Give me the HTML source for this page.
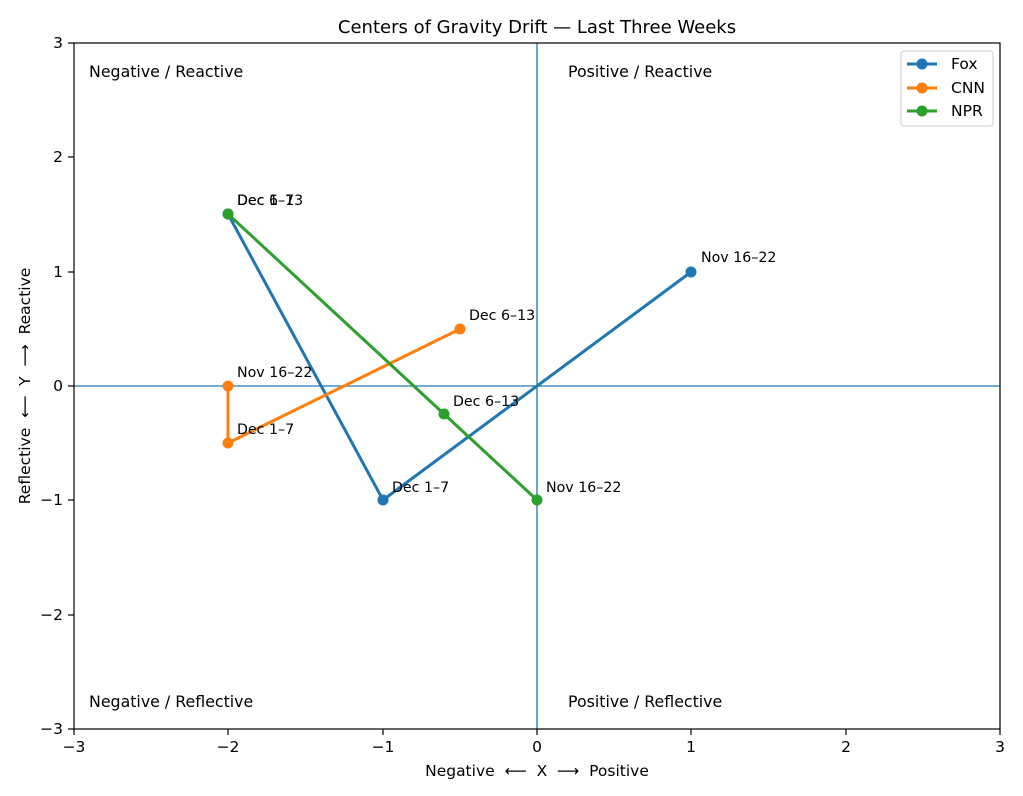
<!DOCTYPE html>
<html><head><meta charset="utf-8"><style>body{margin:0;background:#fff}svg{display:block}text{font-family:"DejaVu Sans","Liberation Sans",sans-serif}</style></head>
<body>
<svg width="1023" height="796" xmlns="http://www.w3.org/2000/svg">
<rect width="1023" height="796" fill="#fff"/>
<text x="537" y="33" font-size="18" text-anchor="middle">Centers of Gravity Drift — Last Three Weeks</text>
<line x1="537" y1="43" x2="537" y2="729" stroke="#1f77b4" stroke-width="1.3"/>
<line x1="74" y1="386" x2="1000" y2="386" stroke="#1f77b4" stroke-width="1.3"/>
<g font-size="15.8">
<text x="89" y="77">Negative / Reactive</text>
<text x="568" y="77">Positive / Reactive</text>
<text x="89" y="707">Negative / Reflective</text>
<text x="568" y="707">Positive / Reflective</text>
</g>
<g fill="none" stroke-width="3" stroke-linejoin="round">
<polyline points="691,272 383,500 228,214" stroke="#1f77b4"/>
<polyline points="228,386 228,443 460,329" stroke="#ff7f0e"/>
<polyline points="537,500 444,414 228,214" stroke="#2ca02c"/>
</g>
<g fill="#1f77b4"><circle cx="691" cy="272" r="5.5"/><circle cx="383" cy="500" r="5.5"/><circle cx="228" cy="214" r="5.5"/></g>
<g fill="#ff7f0e"><circle cx="228" cy="386" r="5.5"/><circle cx="228" cy="443" r="5.5"/><circle cx="460" cy="329" r="5.5"/></g>
<g fill="#2ca02c"><circle cx="537" cy="500" r="5.5"/><circle cx="444" cy="414" r="5.5"/><circle cx="228" cy="214" r="5.5"/></g>
<g font-size="14.2">
<text x="701" y="262">Nov 16–22</text>
<text x="392" y="492">Dec 1–7</text>
<text x="237" y="205">Dec 6–13</text>
<text x="237" y="205">Dec 1–7</text>
<text x="237" y="377">Nov 16–22</text>
<text x="237" y="434">Dec 1–7</text>
<text x="469" y="320">Dec 6–13</text>
<text x="546" y="492">Nov 16–22</text>
<text x="453" y="406">Dec 6–13</text>
</g>
<rect x="74" y="43" width="926" height="686" fill="none" stroke="#000" stroke-width="1.2"/>
<g stroke="#000" stroke-width="1.2">
<line x1="74" y1="729" x2="74" y2="735"/><line x1="228" y1="729" x2="228" y2="735"/><line x1="383" y1="729" x2="383" y2="735"/><line x1="537" y1="729" x2="537" y2="735"/><line x1="691" y1="729" x2="691" y2="735"/><line x1="846" y1="729" x2="846" y2="735"/><line x1="1000" y1="729" x2="1000" y2="735"/>
<line x1="68" y1="43" x2="74" y2="43"/><line x1="68" y1="157" x2="74" y2="157"/><line x1="68" y1="272" x2="74" y2="272"/><line x1="68" y1="386" x2="74" y2="386"/><line x1="68" y1="500" x2="74" y2="500"/><line x1="68" y1="615" x2="74" y2="615"/><line x1="68" y1="729" x2="74" y2="729"/>
</g>
<g font-size="15.5" text-anchor="middle">
<text x="74" y="752">−3</text><text x="228" y="752">−2</text><text x="383" y="752">−1</text><text x="537" y="752">0</text><text x="691" y="752">1</text><text x="846" y="752">2</text><text x="1000" y="752">3</text>
</g>
<g font-size="15.5" text-anchor="end">
<text x="63" y="48">3</text><text x="63" y="162">2</text><text x="63" y="277">1</text><text x="63" y="391">0</text><text x="63" y="505">−1</text><text x="63" y="620">−2</text><text x="63" y="734">−3</text>
</g>
<text x="537" y="776" font-size="15.5" text-anchor="middle" xml:space="preserve">Negative  ⟵  X  ⟶  Positive</text>
<text transform="translate(30,386) rotate(-90)" font-size="15.5" text-anchor="middle" xml:space="preserve">Reflective  ⟵  Y  ⟶  Reactive</text>
<rect x="901" y="51" width="92" height="75" fill="#fff" stroke="#ccc" rx="3"/>
<g stroke-width="3"><line x1="907" y1="64" x2="937" y2="64" stroke="#1f77b4"/><line x1="907" y1="88" x2="937" y2="88" stroke="#ff7f0e"/><line x1="907" y1="111" x2="937" y2="111" stroke="#2ca02c"/></g>
<circle cx="922" cy="64" r="5.5" fill="#1f77b4"/><circle cx="922" cy="88" r="5.5" fill="#ff7f0e"/><circle cx="922" cy="111" r="5.5" fill="#2ca02c"/>
<g font-size="15.5"><text x="951" y="69">Fox</text><text x="951" y="93">CNN</text><text x="951" y="116">NPR</text></g>
</svg>
</body></html>
